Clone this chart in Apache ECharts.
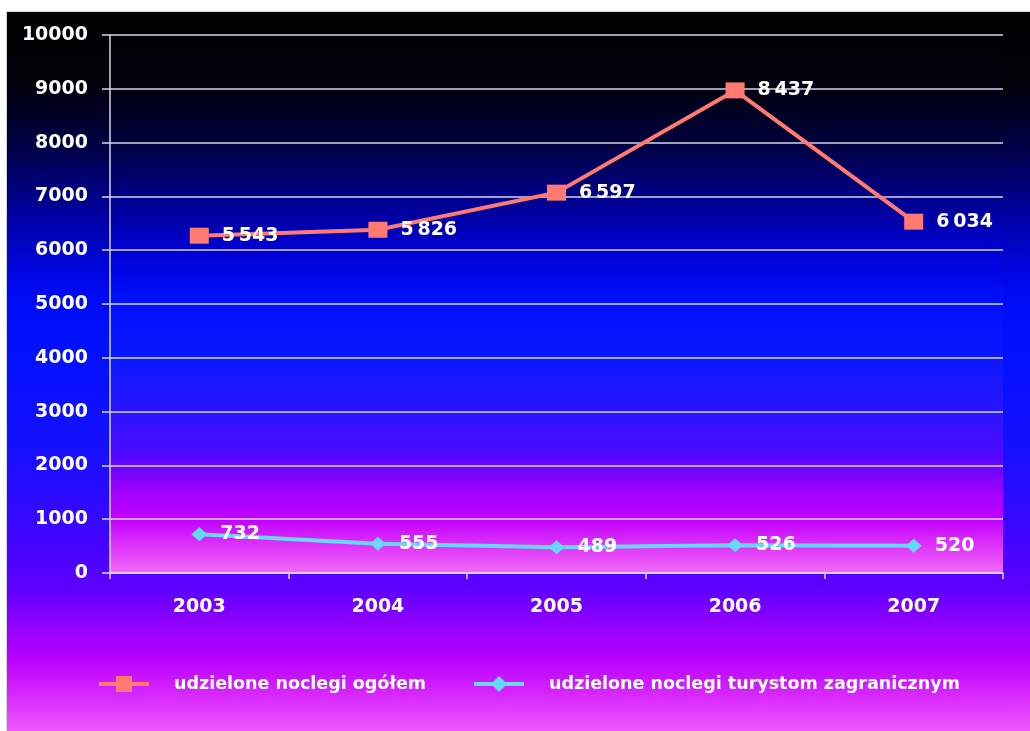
<!DOCTYPE html>
<html>
<head>
<meta charset="utf-8">
<script src="https://cdn.jsdelivr.net/npm/echarts@6/dist/echarts.min.js"></script>
<style>
  html, body { margin: 0; padding: 0; background: #ffffff; width: 1030px; height: 731px; overflow: hidden; }
  #chart {
    position: absolute; left: 6px; top: 11px; width: 1024px; height: 719px;
    border-left: 1px solid #d4d4d4; border-top: 1px solid #d4d4d4;
    background: linear-gradient(to bottom,
      #000000 0%, #000008 10%, #000050 20%, #0000a0 28%, #0008f0 38%, #0010ff 45%,
      #1410ff 60%, #3508ff 70%, #5c00ff 80%, #9000ff 85%, #b800ff 90%, #d828ff 95%, #f058ff 100%);
  }
</style>
</head>
<body>
<div id="chart"></div>
<script>
// ---- data ----
const years = ['2003', '2004', '2005', '2006', '2007'];
const seriesNames = ['udzielone noclegi ogółem', 'udzielone noclegi turystom zagranicznym'];
// plotted positions
const totalValues = [6270, 6380, 7070, 8970, 6530];
const foreignValues = [720, 545, 480, 515, 505];
// data label texts as printed in the picture
const totalLabels = ['5\u2009543', '5\u2009826', '6\u2009597', '8\u2009437', '6\u2009034'];
const foreignLabels = ['732', '555', '489', '526', '520'];
const yTicks = { min: 0, max: 10000, interval: 1000 };

const chart = echarts.init(document.getElementById('chart'), null, { renderer: 'canvas' });
const FONT = 'DejaVu Sans';
const gridColor = '#d6d6e2';

const plotGradient = new echarts.graphic.LinearGradient(0, 0, 0, 1, [
  { offset: 0.00, color: '#000000' },
  { offset: 0.10, color: '#000010' },
  { offset: 0.20, color: '#00003c' },
  { offset: 0.30, color: '#000088' },
  { offset: 0.40, color: '#0000d4' },
  { offset: 0.50, color: '#0010ff' },
  { offset: 0.60, color: '#0a18ff' },
  { offset: 0.70, color: '#2a14ff' },
  { offset: 0.78, color: '#5008ff' },
  { offset: 0.85, color: '#a000ff' },
  { offset: 0.90, color: '#c200ff' },
  { offset: 0.95, color: '#de34fa' },
  { offset: 1.00, color: '#f26af8' }
]);

const labelStyle = {
  show: true, position: 'right', distance: 13,
  color: '#ffffff', fontFamily: FONT, fontWeight: 'bold', fontSize: 19
};

chart.setOption({
  backgroundColor: 'transparent',
  animation: false,
  grid: {
    left: 103, top: 23, right: 28, bottom: 158,
    show: true, backgroundColor: plotGradient, borderWidth: 0
  },
  legend: {
    left: 85, top: 658,
    itemWidth: 50, itemHeight: 20, itemGap: 46,
    lineStyle: { width: 4 },
    textStyle: { color: '#ffffff', fontFamily: FONT, fontWeight: 'bold', fontSize: 17.5, padding: [0, 0, 0, 20] },
    data: seriesNames
  },
  xAxis: {
    type: 'category', data: years, boundaryGap: true,
    axisLine: { lineStyle: { color: gridColor, width: 1.5 } },
    axisTick: { show: true, length: 6, lineStyle: { color: gridColor, width: 1.5 } },
    axisLabel: { color: '#ffffff', fontFamily: FONT, fontWeight: 'bold', fontSize: 19, margin: 25 }
  },
  yAxis: {
    type: 'value', min: yTicks.min, max: yTicks.max, interval: yTicks.interval,
    axisLine: { show: true, lineStyle: { color: gridColor, width: 1.5 } },
    axisTick: { show: true, length: 8, lineStyle: { color: gridColor, width: 1.5 } },
    splitLine: { lineStyle: { color: gridColor, width: 1.5 } },
    axisLabel: { color: '#ffffff', fontFamily: FONT, fontWeight: 'bold', fontSize: 19, margin: 22,
                 formatter: v => String(v) }
  },
  series: [
    {
      name: seriesNames[0], type: 'line', data: totalValues,
      symbol: 'rect', symbolSize: [19, 16],
      lineStyle: { color: '#ff7a70', width: 4 },
      itemStyle: { color: '#ff7a70' },
      label: Object.assign({}, labelStyle, { formatter: p => totalLabels[p.dataIndex] }),
      z: 3
    },
    {
      name: seriesNames[1], type: 'line', data: foreignValues,
      symbol: 'diamond', symbolSize: [16, 14],
      lineStyle: { color: '#66d8fa', width: 4 },
      itemStyle: { color: '#66d8fa' },
      label: Object.assign({}, labelStyle, { formatter: p => foreignLabels[p.dataIndex] }),
      z: 2
    }
  ]
});
</script>
</body>
</html>
